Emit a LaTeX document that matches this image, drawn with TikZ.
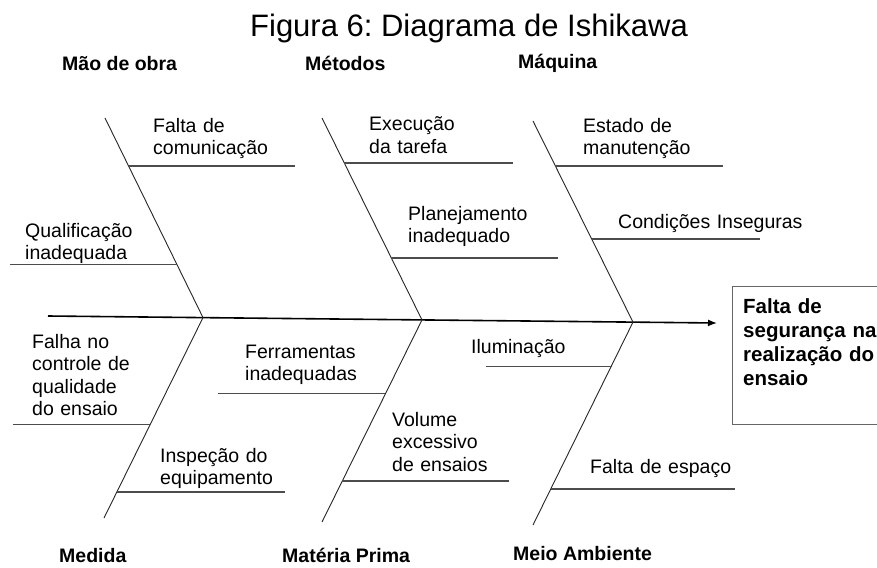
\documentclass[tikz,border=0pt]{standalone}
\usepackage{fontspec}
\setmainfont{Liberation Sans}
\usetikzlibrary{arrows.meta}
\frenchspacing
\begin{document}
\begin{tikzpicture}[x=1pt,y=-1pt,
    osso/.style={line width=0.9pt,black!85},
    ramo/.style={line width=1.2pt,black!70},
    causa/.style={anchor=base west,inner sep=0pt,text width=190pt,align=left,font=\fontsize{19.5}{22.5}\selectfont},
    categoria/.style={anchor=base west,inner sep=0pt,font=\fontsize{19.5}{22}\selectfont\bfseries},
    efeito/.style={draw=black!60,line width=1.3pt,minimum width=160pt,minimum height=138pt,anchor=north west,inner sep=0pt}]
    \useasboundingbox[fill=white] (0,0) rectangle (877,567);

    \node[anchor=base,inner sep=0pt,font=\fontsize{31}{34}\selectfont] (titulo) at (469,37) {Figura 6: Diagrama de Ishikawa};

    \node[categoria] (maodeobra) at (62,71) {Mão de obra};
    \node[categoria] (metodos) at (305,71) {Métodos};
    \node[categoria] (maquina) at (518,69) {Máquina};
    \node[categoria] (medida) at (59,562) {Medida};
    \node[categoria] (materia) at (282,562) {Matéria Prima};
    \node[categoria] (meio) at (513,560) {Meio Ambiente};

    \node[efeito] (efeito) at (732,286) {};
    \node[causa,text width=140pt,font=\fontsize{20.5}{24}\selectfont\bfseries] (efeitotxt) at (743,313) {Falta de\\segurança na\\realização do\\ensaio};

    \coordinate (inicio) at (48,316);
    \coordinate (fim) at (717,323);
    \draw [-{Latex[length=9pt,width=7pt]},line width=1.6pt] (inicio) -- (fim);

    \coordinate (j1) at (203,317.6);
    \coordinate (j2) at (422,319.9);
    \coordinate (j3) at (633,322.1);
    \coordinate (t1) at (105,118);
    \coordinate (t2) at (322,118);
    \coordinate (t3) at (533,121);
    \coordinate (b1) at (104,518);
    \coordinate (b2) at (322,522);
    \coordinate (b3) at (533,525);

    \draw [osso] (t1) -- (j1) -- (b1);
    \draw [osso] (t2) -- (j2) -- (b2);
    \draw [osso] (t3) -- (j3) -- (b3);

    \path (t1) -- (j1) coordinate[pos=0.24] (p11) coordinate[pos=0.735] (p12);
    \path (j1) -- (b1) coordinate[pos=0.535] (p13) coordinate[pos=0.87] (p14);
    \path (t2) -- (j2) coordinate[pos=0.223] (p21) coordinate[pos=0.693] (p22);
    \path (j2) -- (b2) coordinate[pos=0.366] (p23) coordinate[pos=0.797] (p24);
    \path (t3) -- (j3) coordinate[pos=0.224] (p31) coordinate[pos=0.587] (p32);
    \path (j3) -- (b3) coordinate[pos=0.217] (p33) coordinate[pos=0.823] (p34);

    \coordinate (e11) at (295,166);
    \coordinate (e12) at (10,265);
    \coordinate (e13) at (13,425);
    \coordinate (e14) at (285,492);
    \coordinate (e21) at (513,163);
    \coordinate (e22) at (558,258);
    \coordinate (e23) at (218,394);
    \coordinate (e24) at (509,481);
    \coordinate (e31) at (723,166);
    \coordinate (e32) at (760,239);
    \coordinate (e33) at (486,366);
    \coordinate (e34) at (735,489);

    \draw [ramo] (p11) -- (e11 |- p11);
    \draw [ramo] (e12 |- p12) -- (p12);
    \draw [ramo] (e13 |- p13) -- (p13);
    \draw [ramo] (p14) -- (e14 |- p14);
    \draw [ramo] (p21) -- (e21 |- p21);
    \draw [ramo] (p22) -- (e22 |- p22);
    \draw [ramo] (e23 |- p23) -- (p23);
    \draw [ramo] (p24) -- (e24 |- p24);
    \draw [ramo] (p31) -- (e31 |- p31);
    \draw [ramo] (p32) -- (e32 |- p32);
    \draw [ramo] (e33 |- p33) -- (p33);
    \draw [ramo] (p34) -- (e34 |- p34);

    \node[causa] (comunicacao) at (153,132) {Falta de\\comunicação};
    \node[causa] (qualificacao) at (25,237) {Qualificação\\inadequada};
    \node[causa] (execucao) at (369,131) {Execução\\da tarefa};
    \node[causa] (planejamento) at (408,220) {Planejamento\\inadequado};
    \node[causa] (estado) at (583,132) {Estado de\\manutenção};
    \node[causa] (condicoes) at (618,228) {Condições Inseguras};
    \node[causa] (falha) at (32,348) {Falha no\\controle de\\qualidade\\do ensaio};
    \node[causa] (ferramentas) at (245,358) {Ferramentas\\inadequadas};
    \node[causa] (inspecao) at (160,462) {Inspeção do\\equipamento};
    \node[causa] (volume) at (392,426) {Volume\\excessivo\\de ensaios};
    \node[causa] (iluminacao) at (471,353) {Iluminação};
    \node[causa] (espaco) at (590,473) {Falta de espaço};
\end{tikzpicture}
\end{document}
